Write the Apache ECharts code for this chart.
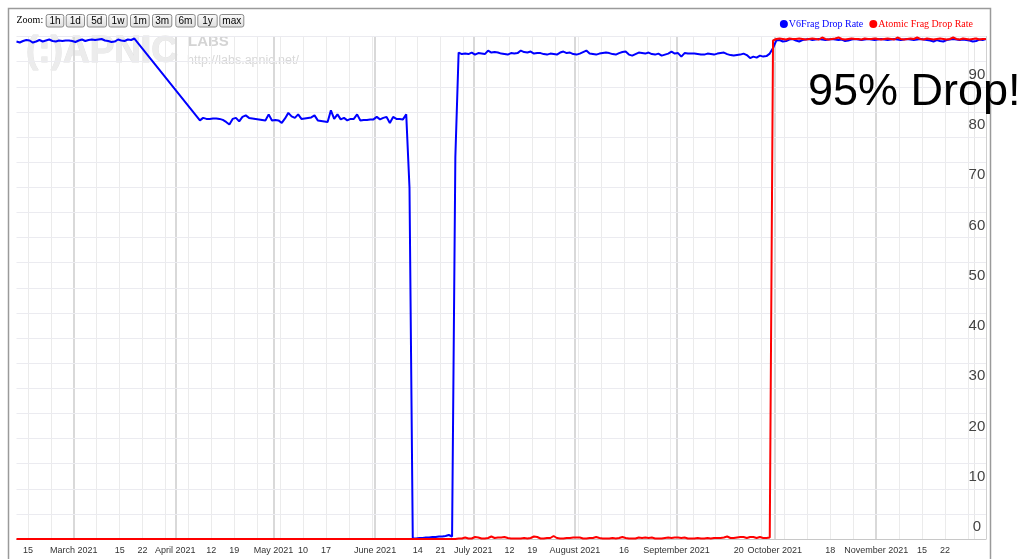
<!DOCTYPE html>
<html><head><meta charset="utf-8">
<script src="https://cdn.jsdelivr.net/npm/echarts@6/dist/echarts.min.js"></script>
<style>html,body{margin:0;padding:0;background:#fff;} #chart{width:1025px;height:559px;}</style>
</head><body><div id="chart"></div>
<script>
// ---------------- data ----------------
const seriesNames = ['V6Frag Drop Rate', 'Atomic Frag Drop Rate'];
const seriesColors = ['#0000ff', '#ff0000'];
// daily samples; segment A: Feb 11 - Mar 19, segment B: Apr 8 - Dec 4 (no data in between)
const segmentStarts = ['2021-02-11', '2021-04-08'];
const v6FragA = [
  99.0, 98.8, 99.1, 99.3, 99.2, 98.8, 99.0, 99.3, 99.0, 99.2,
  99.4, 99.1, 99.0, 99.2, 99.1, 99.2, 99.2, 99.1, 98.9, 99.2,
  99.4, 99.1, 99.3, 99.4, 99.3, 99.4, 99.5, 99.2, 99.1, 98.9,
  99.0, 99.4, 99.2, 99.1, 99.4, 99.3, 99.6
];
const v6FragB = [
  83.3, 83.8, 83.6, 83.6, 83.7, 83.7, 83.6, 83.4, 83.0, 82.5,
  83.6, 83.8, 83.1, 84.0, 84.3, 83.8, 83.7, 83.6, 83.5, 83.4,
  83.3, 84.5, 83.3, 83.4, 83.3, 82.8, 83.7, 84.8, 84.1, 83.8,
  84.5, 83.6, 83.7, 83.8, 83.9, 84.3, 83.3, 83.2, 83.1, 83.0,
  85.3, 83.6, 84.5, 83.5, 83.8, 83.3, 83.6, 83.6, 84.5, 83.3,
  83.4, 83.4, 83.5, 83.5, 84.0, 83.5, 83.8, 84.0, 82.8, 84.0,
  83.6, 83.6, 83.5, 84.5, 69.9,
  0.1, 0.1, 0.2, 0.2, 0.3, 0.3, 0.4, 0.4, 0.5, 0.5, 0.6, 0.8, 0.5,
  76.0,
  96.8, 96.5, 96.6, 96.5, 96.8, 96.4, 96.7, 96.6, 96.5, 97.2,
  96.8, 96.9, 96.8, 96.6, 96.5, 96.4, 96.7, 96.6, 96.7, 97.2,
  96.9, 96.8, 97.0, 96.6, 96.7, 96.7, 96.5, 96.4, 96.6, 96.5,
  96.4, 96.8, 97.0, 96.7, 96.8, 96.5, 96.4, 96.6, 96.9, 97.2,
  96.6, 96.5, 96.4, 96.6, 96.7, 96.8, 96.7, 96.5, 96.4, 96.7,
  96.9, 97.0, 96.4, 96.2, 96.5, 96.8, 96.7, 96.6, 96.8, 96.5,
  96.4, 96.6, 96.2, 96.4, 96.6, 97.0, 96.6, 96.7, 96.0, 96.7,
  96.6, 96.6, 96.6, 96.5, 96.4, 96.4, 96.6, 96.5, 96.4, 96.6,
  96.7, 96.8, 96.5, 96.3, 96.2, 96.3, 96.4, 96.6, 96.3, 95.7,
  96.0, 95.8, 96.2, 96.0, 96.1, 96.6, 97.7,
  99.2, 99.3, 99.0, 99.1, 99.4, 99.5, 99.2, 99.0, 99.3, 99.4,
  99.5, 99.3, 99.4, 99.5, 99.4, 99.3, 99.4, 99.5, 99.4, 99.3,
  99.4, 99.1, 99.2, 99.4, 99.5, 99.4, 99.3, 99.4, 99.5, 99.4,
  99.3, 99.4, 99.5, 99.4, 99.3, 99.4, 99.5, 99.4, 99.3, 99.4,
  99.5, 99.4, 99.3, 99.4, 99.5, 99.4, 99.3, 99.2, 99.0, 99.3,
  99.1, 99.0, 99.3, 99.4, 99.5, 99.4, 99.3, 99.4, 99.3, 99.2,
  99.0, 99.1, 99.4, 99.3, 99.5
];
const atomicFragA = [
  0, 0, 0, 0, 0, 0, 0, 0, 0, 0,
  0, 0, 0, 0, 0, 0, 0, 0, 0, 0,
  0, 0, 0, 0, 0, 0, 0, 0, 0, 0,
  0, 0, 0, 0, 0, 0, 0
];
const atomicFragB = [
  0, 0, 0, 0, 0, 0, 0, 0, 0, 0,
  0, 0, 0, 0, 0, 0, 0, 0, 0, 0,
  0, 0, 0, 0, 0, 0, 0, 0, 0, 0,
  0, 0, 0, 0, 0, 0, 0, 0, 0, 0,
  0, 0, 0, 0, 0, 0, 0, 0, 0, 0,
  0, 0, 0, 0, 0, 0, 0, 0, 0, 0,
  0, 0, 0, 0, 0, 0, 0, 0, 0, 0,
  0, 0, 0, 0, 0, 0, 0, 0,
  0.0, 0.1, 0.1, 0.3, 0.1, 0.1, 0.4, 0.3, 0.1, 0.1,
  0.2, 0.5, 0.2, 0.3, 0.3, 0.4, 0.2, 0.1, 0.1, 0.1,
  0.1, 0.2, 0.1, 0.2, 0.5, 0.4, 0.1, 0.1, 0.2, 0.2,
  0.6, 0.2, 0.1, 0.1, 0.2, 0.2, 0.3, 0.3, 0.3, 0.1,
  0.1, 0.2, 0.2, 0.4, 0.2, 0.1, 0.1, 0.1, 0.2, 0.1,
  0.2, 0.4, 0.2, 0.1, 0.1, 0.1, 0.3, 0.2, 0.3, 0.2,
  0.3, 0.1, 0.1, 0.1, 0.2, 0.3, 0.2, 0.3, 0.3, 0.2,
  0.3, 0.1, 0.1, 0.1, 0.2, 0.1, 0.1, 0.2, 0.1, 0.2,
  0.2, 0.2, 0.3, 0.5, 0.2, 0.2, 0.3, 0.4, 0.4, 0.2,
  0.4, 0.4, 0.2, 0.4, 0.2, 0.2,
  0.3,
  99.2,
  99.5, 99.6, 99.5, 99.4, 99.6, 99.5, 99.5, 99.6, 99.5, 99.4,
  99.5, 99.6, 99.5, 99.4, 99.8, 99.5, 99.4, 99.5, 99.6, 99.8,
  99.5, 99.4, 99.5, 99.6, 99.5, 99.5, 99.4, 99.6, 99.5, 99.5,
  99.6, 99.5, 99.4, 99.5, 99.6, 99.5, 99.4, 99.8, 99.5, 99.4,
  99.5, 99.6, 99.5, 99.8, 99.5, 99.4, 99.6, 99.5, 99.4, 99.5,
  99.6, 99.5, 99.4, 99.5, 99.8, 99.5, 99.4, 99.6, 99.5, 99.4,
  99.5, 99.6, 99.4, 99.5, 99.5
];
const xRange = ['2021-02-11T12:00:00Z', '2021-12-04T12:00:00Z'];
const weekTicks = ['2021-02-15','2021-02-22','2021-03-01','2021-03-08','2021-03-15','2021-03-22','2021-03-29',
  '2021-04-05','2021-04-12','2021-04-19','2021-04-26','2021-05-03','2021-05-10','2021-05-17','2021-05-24',
  '2021-05-31','2021-06-07','2021-06-14','2021-06-21','2021-06-28','2021-07-05','2021-07-12','2021-07-19',
  '2021-07-26','2021-08-02','2021-08-09','2021-08-16','2021-08-23','2021-08-30','2021-09-06','2021-09-13',
  '2021-09-20','2021-09-27','2021-10-04','2021-10-11','2021-10-18','2021-10-25','2021-11-01','2021-11-08',
  '2021-11-15','2021-11-22','2021-11-29'];
const weekLabels = ['15','','','','15','22','',
  '','12','19','','','10','17','',
  '','','14','21','','','12','19',
  '','','','16','','','','',
  '20','','','','18','','','',
  '15','22',''];
const monthTicks = ['2021-03-01','2021-04-01','2021-05-01','2021-06-01','2021-07-01','2021-08-01',
  '2021-09-01','2021-10-01','2021-11-01','2021-12-01'];
const monthLabels = ['March 2021','April 2021','May 2021','June 2021','July 2021','August 2021',
  'September 2021','October 2021','November 2021',''];
const yTickLabels = ['0','10','20','30','40','50','60','70','80','90'];
const zoomButtons = ['1h','1d','5d','1w','1m','3m','6m','1y','max'];

// ---------------- helpers ----------------
const DAY = 86400000;
function utc(s) { return Date.parse(s.length === 10 ? s + 'T00:00:00Z' : s); }
function toPairs(start, vals) { const t0 = utc(start) + DAY / 2; return vals.map((v, i) => [t0 + i * DAY, v]); }

const v6Data = toPairs(segmentStarts[0], v6FragA).concat(toPairs(segmentStarts[1], v6FragB));
const atomicData = toPairs(segmentStarts[0], atomicFragA).concat(toPairs(segmentStarts[1], atomicFragB));

const gridMarks = [];
weekTicks.forEach((d, i) => gridMarks.push({
  xAxis: utc(d),
  lineStyle: { color: '#ebebeb', width: 1, type: 'solid' },
  label: { show: !!weekLabels[i], formatter: weekLabels[i] || ' ' }
}));
monthTicks.forEach((d, i) => gridMarks.push({
  xAxis: utc(d),
  lineStyle: monthLabels[i] ? { color: '#d9d9d9', width: 2, type: 'solid' } : { color: '#e6e6e6', width: 1, type: 'solid' },
  label: { show: !!monthLabels[i], formatter: monthLabels[i] || ' ' }
}));

// zoom button layout (pixels)
const btnX = [45.7, 65.7, 86.7, 108.3, 130, 152, 175.3, 197.3, 219.3];
const btnW = [17.6, 18.3, 19.3, 18.4, 18.7, 19.3, 19.4, 19.4, 24];
const graphics = [
  { type: 'rect', z: 50, silent: true, shape: { x: 8.5, y: 8.5, width: 982, height: 600 },
    style: { fill: 'none', stroke: '#9a9a9a', lineWidth: 1.5 } },
  { type: 'text', z: 50, x: 16.5, y: 20.7,
    style: { text: 'Zoom:', font: '10px "Liberation Serif"', fill: '#000', textVerticalAlign: 'middle', verticalAlign: 'middle' } },
  // watermark
  { type: 'text', z: -10, x: 26, y: 52,
    style: { text: '(:)APNIC', font: 'bold 37px "Liberation Sans"', fill: '#ececec', stroke: '#e2e2e2', lineWidth: 0.8,
      textVerticalAlign: 'middle', verticalAlign: 'middle' } },
  { type: 'text', z: -10, x: 188, y: 42,
    style: { text: 'LABS', font: 'bold 15px "Liberation Sans"', fill: '#d4d4d4', textVerticalAlign: 'middle', verticalAlign: 'middle' } },
  { type: 'text', z: -10, x: 187, y: 60.5,
    style: { text: 'http://labs.apnic.net/', font: '12.5px "Liberation Sans"', fill: '#d8d8d8', textVerticalAlign: 'middle', verticalAlign: 'middle' } },
  // annotation
  { type: 'text', z: 100, x: 808, y: 93,
    style: { text: '95% Drop!', font: '45px "Liberation Sans"', fill: '#000', textVerticalAlign: 'middle', verticalAlign: 'middle' } }
];
zoomButtons.forEach((b, i) => {
  graphics.push({ type: 'rect', z: 50, silent: true,
    shape: { x: btnX[i] + 0.5, y: 14.5, width: btnW[i], height: 12.5, r: 2 },
    style: { fill: { type: 'linear', x: 0, y: 0, x2: 0, y2: 1, colorStops: [{ offset: 0, color: '#fbfbfb' }, { offset: 1, color: '#dedede' }] },
      stroke: '#8a8a8a', lineWidth: 1 } });
  graphics.push({ type: 'text', z: 51, x: btnX[i] + 0.5 + btnW[i] / 2, y: 21,
    style: { text: b, font: '10px "Liberation Sans"', fill: '#000', textAlign: 'center', align: 'center',
      textVerticalAlign: 'middle', verticalAlign: 'middle' } });
});

const chart = echarts.init(document.getElementById('chart'));
chart.setOption({
  animation: false,
  backgroundColor: '#ffffff',
  grid: { left: 16.5, right: 39.1, top: 36.5, bottom: 20, containLabel: false, outerBoundsMode: 'none' },
  legend: {
    right: 47, top: 14, orient: 'horizontal', icon: 'circle', itemWidth: 8, itemHeight: 8, itemGap: 6,
    selectedMode: false,
    textStyle: { fontFamily: 'Liberation Serif', fontSize: 10, padding: [0, 0, 0, -4] },
    data: seriesNames.map((n, i) => ({ name: n, textStyle: { color: seriesColors[i] } }))
  },
  xAxis: {
    type: 'time', min: utc(xRange[0]), max: utc(xRange[1]), z: 2,
    axisLine: { show: true, onZero: false, lineStyle: { color: '#c8c8c8', width: 1 } },
    axisTick: { show: false }, axisLabel: { show: false }, splitLine: { show: false }
  },
  yAxis: {
    type: 'value', position: 'right', min: 0, max: 100, interval: 5, z: 2,
    axisLine: { show: true, lineStyle: { color: '#d0d0d0', width: 1 } },
    axisTick: { show: false },
    splitLine: { show: true, lineStyle: { color: '#ebebf0', width: 1 } },
    axisLabel: {
      inside: true, margin: 9, align: 'center', verticalAlign: 'bottom', lineHeight: 24,
      fontFamily: 'Liberation Sans', fontSize: 15, color: '#444',
      formatter: v => (v % 10 === 0 && yTickLabels[v / 10] !== undefined) ? yTickLabels[v / 10] : ''
    }
  },
  series: [
    { name: seriesNames[0], type: 'line', data: v6Data, symbol: 'none', showSymbol: false, silent: true, z: 3,
      lineStyle: { color: seriesColors[0], width: 2 }, itemStyle: { color: seriesColors[0] } },
    { name: seriesNames[1], type: 'line', data: atomicData, symbol: 'none', showSymbol: false, silent: true, z: 4,
      lineStyle: { color: seriesColors[1], width: 2 }, itemStyle: { color: seriesColors[1] },
      markLine: {
        silent: true, z: 1, symbol: ['none', 'none'], animation: false,
        label: { position: 'start', distance: 7, color: '#333', fontSize: 9, fontFamily: 'Liberation Sans' },
        emphasis: { disabled: true },
        data: gridMarks
      } }
  ],
  graphic: graphics
});
</script></body></html>
